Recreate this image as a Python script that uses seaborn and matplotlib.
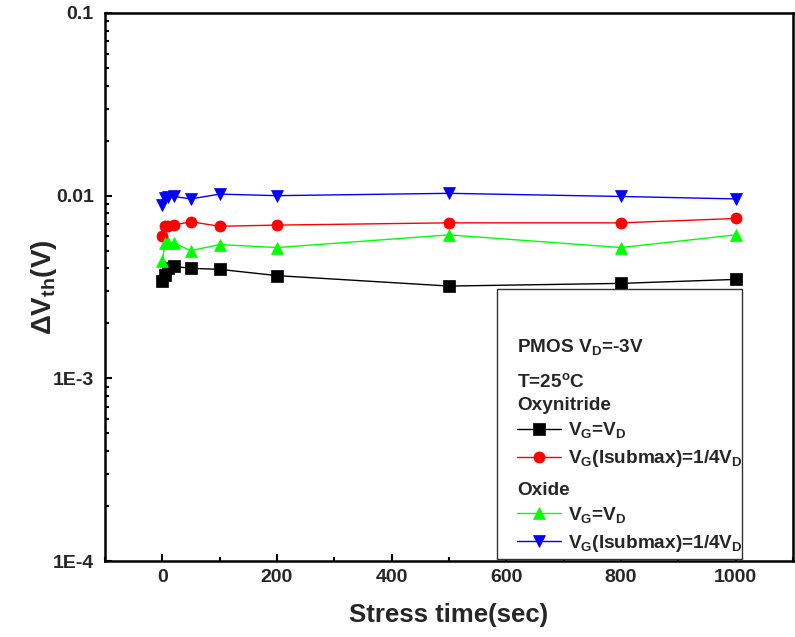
import matplotlib
matplotlib.use("Agg")
import matplotlib.pyplot as plt
from matplotlib.patches import Rectangle
from matplotlib.ticker import FixedLocator, LogLocator, MultipleLocator, NullFormatter
import numpy as np
import pandas as pd
import seaborn as sns

# Stress time points (sec)
stress_time = [0, 5, 10, 20, 50, 100, 200, 500, 800, 1000]

# Threshold voltage shift (V)
oxynitride_vg_vd = [0.00343, 0.0037, 0.0040, 0.0041, 0.0040, 0.00395, 0.00365, 0.0032, 0.00331, 0.00348]
oxynitride_vg_isub = [0.0060, 0.0068, 0.0068, 0.0069, 0.0072, 0.0068, 0.0069, 0.0071, 0.0071, 0.0075]
oxide_vg_vd = [0.0044, 0.0055, 0.0055, 0.0055, 0.0050, 0.0054, 0.0052, 0.0061, 0.0052, 0.0061]
oxide_vg_isub = [0.0089, 0.0097, 0.0098, 0.0099, 0.0096, 0.0102, 0.0100, 0.0103, 0.0099, 0.0096]

y_ticks = [1e-4, 1e-3, 1e-2, 1e-1]
y_tick_labels = ["1E-4", "1E-3", "0.01", "0.1"]
x_ticks = [0, 200, 400, 600, 800, 1000]

series = [
    ("Oxynitride", r"V$_{\mathbf{G}}$=V$_{\mathbf{D}}$", oxynitride_vg_vd, "black", "s"),
    ("Oxynitride", r"V$_{\mathbf{G}}$(Isubmax)=1/4V$_{\mathbf{D}}$", oxynitride_vg_isub, "#ff0000", "o"),
    ("Oxide", r"V$_{\mathbf{G}}$=V$_{\mathbf{D}}$", oxide_vg_vd, "#00ff00", "^"),
    ("Oxide", r"V$_{\mathbf{G}}$(Isubmax)=1/4V$_{\mathbf{D}}$", oxide_vg_isub, "#0000ff", "v"),
]

sns.set_style("ticks")
plt.rcParams["font.family"] = ["Liberation Sans", "DejaVu Sans"]
plt.rcParams["font.weight"] = "bold"
plt.rcParams["mathtext.fontset"] = "custom"
plt.rcParams["mathtext.rm"] = "Liberation Sans:bold"
plt.rcParams["mathtext.bf"] = "Liberation Sans:bold"
plt.rcParams["mathtext.it"] = "Liberation Sans:bold"

FS = 13.7

fig = plt.figure(figsize=(7.95, 6.37), dpi=100)
ax = fig.add_axes([0.132, 0.1193, 0.8655, 0.8603])

handles = {"Oxynitride": [], "Oxide": []}
for group, label, values, color, marker in series:
    df = pd.DataFrame({"t": stress_time, "dv": values})
    sns.lineplot(data=df, x="t", y="dv", ax=ax, color=color, marker=marker,
                 markersize=8, markeredgecolor=color, markeredgewidth=0.5,
                 linewidth=1.0, label=label, legend=False, zorder=3)
    handles[group].append((ax.lines[-1], label))

ax.set_yscale("log")
ax.set_xlim(-100, 1100)
ax.set_ylim(1e-4, 1e-1)
ax.yaxis.set_major_locator(FixedLocator(y_ticks))
ax.set_yticklabels(y_tick_labels)
ax.yaxis.set_minor_locator(LogLocator(base=10, subs=np.arange(2, 10)))
ax.yaxis.set_minor_formatter(NullFormatter())
ax.xaxis.set_major_locator(FixedLocator(x_ticks))
ax.xaxis.set_minor_locator(MultipleLocator(100))

for side in ["left", "bottom", "top", "right"]:
    ax.spines[side].set_linewidth(1.8)
    ax.spines[side].set_color("black")

ax.tick_params(axis="both", which="major", direction="in", length=5, width=1.5,
               labelsize=14, color="black")
ax.tick_params(axis="both", which="minor", direction="in", length=3, width=1.5,
               color="black")
ax.tick_params(axis="y", which="major", pad=8)
ax.tick_params(axis="x", which="major", pad=6)
for lbl in ax.get_xticklabels() + ax.get_yticklabels():
    lbl.set_fontweight("bold")

ax.set_xlabel("Stress time(sec)", fontsize=18.5, fontweight="bold")
ax.set_ylabel(r"ΔV$_{\mathbf{th}}$(V)", fontsize=20, fontweight="bold")
ax.xaxis.set_label_coords(0.5, -0.077)
ax.yaxis.set_label_coords(-0.067, 0.5)

# Legend frame
frame = Rectangle((0.570, 0.003), 0.356, 0.493, transform=ax.transAxes,
                  facecolor="white", edgecolor="#333333", linewidth=1.0, zorder=4)
ax.add_patch(frame)

# Legend headings
text_x = 0.599
for txt, yb in [("PMOS V$_{\\mathbf{D}}$=-3V", 0.381),
                ("T=25$^{\\mathbf{o}}$C", 0.318),
                ("Oxynitride", 0.276),
                ("Oxide", 0.120)]:
    ax.text(text_x, yb, txt, transform=ax.transAxes, fontsize=FS,
            fontweight="bold", ha="left", va="baseline", zorder=6)

common = dict(frameon=False, fontsize=FS, handlelength=2.3, handletextpad=0.37,
              borderpad=0, borderaxespad=0, labelspacing=0.42, loc="center left")

h1 = [h for h, _ in handles["Oxynitride"]]
l1 = [l for _, l in handles["Oxynitride"]]
leg1 = ax.legend(h1, l1, bbox_to_anchor=(text_x, 0.212), **common)
leg1.set_zorder(5)
ax.add_artist(leg1)

h2 = [h for h, _ in handles["Oxide"]]
l2 = [l for _, l in handles["Oxide"]]
leg2 = ax.legend(h2, l2, bbox_to_anchor=(text_x, 0.0575), **common)
leg2.set_zorder(5)

fig.savefig("out.png", dpi=100)
